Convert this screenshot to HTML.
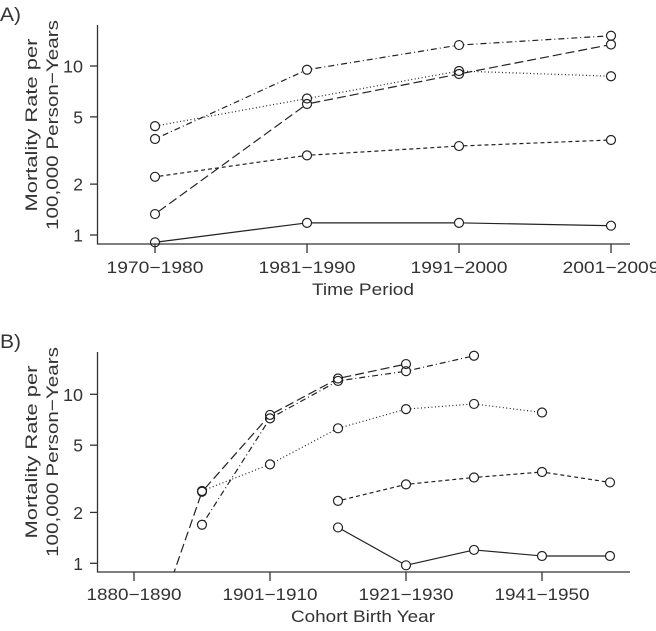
<!DOCTYPE html>
<html><head><meta charset="utf-8"><style>
html,body{margin:0;padding:0;background:#fff;overflow:hidden;}
svg{display:block;}
svg text{font-family:"Liberation Sans",sans-serif;fill:#333;}
</style></head><body>
<svg id="c" width="656" height="631" viewBox="0 0 656 631" xmlns="http://www.w3.org/2000/svg"></svg>
<script>
const periods = ["1970\u22121980","1981\u22121990","1991\u22122000","2001\u22122009"];
const cohortTicks = ["1880\u22121890","1901\u22121910","1921\u22121930","1941\u22121950"];
const yTicks = [1,2,5,10];
// Panel A series (per period)
const aSolid = [0.905,1.18,1.18,1.135];
const aShortDash = [2.21,2.96,3.36,3.65];
const aLongDash = [1.33,5.96,8.97,13.4];
const aDotted = [4.41,6.42,9.34,8.7];
const aDotDash = [3.70,9.5,13.3,15.1];
// Panel B series (cohort index 0..7, null = missing)
const bSolid = [null,null,null,1.63,0.973,1.20,1.105,1.105];
const bShortDash = [null,null,null,2.34,2.93,3.22,3.47,3.01];
const bDotted = [null,2.68,3.85,6.29,8.17,8.77,7.8,null];
const bLongDash = [0.184,2.65,7.55,12.4,15.1,null,null,null];
const bDotDash = [null,1.69,7.2,12.0,13.7,16.9,null,null];

const NS="http://www.w3.org/2000/svg";
const svg=document.getElementById('c');
function mk(t,a,p){const e=document.createElementNS(NS,t);for(const k in a)e.setAttribute(k,a[k]);(p||svg).appendChild(e);return e;}
const styles={solid:"none",short:"4,3",long:"9,4",dotted:"1,2.5",dotdash:"1,3,6,3"};

function panel(o){
  const g=mk('g',{});
  
  
  const yS=v=>o.y1-(Math.log10(v))*169;
  const xS=i=>o.x0+o.dx*i;
  const lab=mk('text',{x:0,y:o.labY,'font-size':19,textLength:21,lengthAdjust:'spacingAndGlyphs'},g);lab.textContent=o.label;
  
  const ax=mk('path',{d:`M97.5,${o.top}V${o.bot}H630`,stroke:'#333','stroke-width':1.3,fill:'none'},g);
  
  yTicks.forEach(v=>{const y=yS(v);
    mk('line',{x1:90,x2:97.5,y1:y,y2:y,stroke:'#333','stroke-width':1.3},g);
    const t=mk('text',{x:83,y:y+6.5,'font-size':17.5,'text-anchor':'end'},g);t.textContent=v;
    if(v>=10){t.setAttribute('textLength',20);t.setAttribute('lengthAdjust','spacingAndGlyphs');}
    });
  o.xt.forEach((s,k)=>{const x=xS(o.xtIdx[k]);
    mk('line',{x1:x,x2:x,y1:o.bot,y2:o.bot+9,stroke:'#333','stroke-width':1.3},g);
    const t=mk('text',{x:x,y:o.bot+o.tickDy,'font-size':16.5,'text-anchor':'middle',textLength:o.tickW,lengthAdjust:'spacingAndGlyphs'},g);t.textContent=s;
    });
  const xt=mk('text',{x:o.xtX,y:o.bot+o.titleDy,'font-size':17,'text-anchor':'middle',textLength:o.xtW,lengthAdjust:'spacingAndGlyphs'},g);xt.textContent=o.xtitle;
  
  const cy=o.ytc;
  const yt=mk('text',{transform:`translate(37,${cy}) rotate(-90)`,'font-size':17,'text-anchor':'middle'},g);
  
  const t1=mk('tspan',{x:0,y:0,textLength:173,lengthAdjust:'spacingAndGlyphs'},yt);t1.textContent="Mortality Rate per";
  const t2=mk('tspan',{x:0,y:21,textLength:210,lengthAdjust:'spacingAndGlyphs'},yt);t2.textContent="100,000 Person\u2212Years";
  const cid='clip'+o.name;
  const cp=mk('clipPath',{id:cid},g);mk('rect',{x:98,y:o.top-10,width:540,height:o.bot-o.top+10},cp);
  o.series.forEach(([arr,st,nm])=>{
    const sg=mk('g',{},g);
    
    const pts=[];arr.forEach((v,i)=>{if(v!=null)pts.push([xS(i),yS(v)]);});
    const r=4.5;
    for(let k=0;k<pts.length-1;k++){
      const [x1,y1]=pts[k],[x2,y2]=pts[k+1];
      const L=Math.hypot(x2-x1,y2-y1),ux=(x2-x1)/L,uy=(y2-y1)/L;
      const sx=y1>o.bot?x1:x1+ux*r, sy=y1>o.bot?y1:y1+uy*r;
      const ln=mk('line',{x1:sx,y1:sy,x2:x2-ux*r,y2:y2-uy*r,stroke:'#222','stroke-width':1.2,'clip-path':`url(#${cid})`},sg);
      if(styles[st]!=="none")ln.setAttribute('stroke-dasharray',styles[st]);
    }
    pts.forEach(([x,y])=>{if(y<=o.bot){const c=mk('circle',{cx:x,cy:y,r:r,fill:'none',stroke:'#222','stroke-width':1.2},sg);
      }});
  });
}
panel({name:'panel-a',label:'A)',labY:21,top:25,bot:244,y1:235,x0:155,dx:152,xt:periods,xtIdx:[0,1,2,3],xtitle:'Time Period',
  tickDy:29,tickW:97,titleDy:51,xtX:363,xtW:102,ytc:125,
  series:[[aSolid,'solid','series-solid'],[aShortDash,'short','series-short-dash'],[aLongDash,'long','series-long-dash'],[aDotted,'dotted','series-dotted'],[aDotDash,'dotdash','series-dot-dash']]});
panel({name:'panel-b',label:'B)',labY:348,top:352,bot:572,y1:563.3,x0:134,dx:68,xt:cohortTicks,xtIdx:[0,2,4,6],xtitle:'Cohort Birth Year',
  tickDy:28,tickW:95,titleDy:50,xtX:363,xtW:144,ytc:452,
  series:[[bSolid,'solid','series-solid'],[bShortDash,'short','series-short-dash'],[bLongDash,'long','series-long-dash'],[bDotted,'dotted','series-dotted'],[bDotDash,'dotdash','series-dot-dash']]});
</script>
</body></html>
